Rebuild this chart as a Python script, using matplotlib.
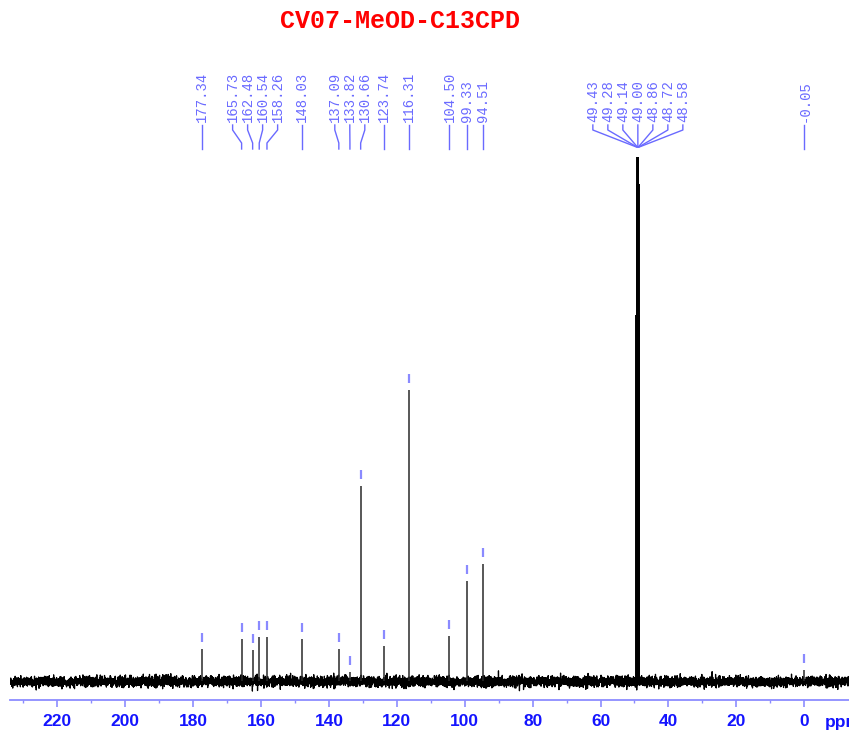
import numpy as np
import matplotlib
matplotlib.use("Agg")
import matplotlib.pyplot as plt
from matplotlib.transforms import IdentityTransform
from matplotlib.lines import Line2D

# ---- spectrum data -------------------------------------------------------
title = "CV07-MeOD-C13CPD"

# sample carbon resonances (ppm) and relative intensities (solvent max = 100)
peak_shifts = [177.34, 165.73, 162.48, 160.54, 158.26, 148.03, 137.09, 133.82,
               130.66, 123.74, 116.31, 104.50, 99.33, 94.51, -0.05]
peak_heights = [6.2, 8.1, 6.0, 8.5, 8.5, 8.1, 6.2, 1.8,
                37.3, 6.8, 55.6, 8.7, 19.2, 22.4, 2.2]

# CD3OD septet
solvent_shifts = [49.43, 49.28, 49.14, 49.00, 48.86, 48.72, 48.58]
solvent_heights = [70.0, 95.0, 100.0, 100.0, 100.0, 95.0, 70.0]

tick_values = [220, 200, 180, 160, 140, 120, 100, 80, 60, 40, 20, 0]
tick_labels = [str(v) for v in tick_values]
axis_unit = "ppm"

# ---- figure / axes -------------------------------------------------------
W, H = 849, 732
fig = plt.figure(figsize=(W / 100, H / 100), dpi=100)
ax_left, ax_right = 10, 849
ax_bottom, ax_top = 700, 157.3           # pixel rows, measured from top
ax = fig.add_axes([ax_left / W, 1 - ax_bottom / H,
                   (ax_right - ax_left) / W, (ax_bottom - ax_top) / H])
ax.set_xlim(233.96, -13.2)
y_lo = -3.53
ax.set_ylim(y_lo, 100)
px_per_unit = (ax_bottom - ax_top) / (100 - y_lo)

# baseline noise texture
rng = np.random.default_rng(7)
grid = np.linspace(233.96, -13.2, 8000)
noise = rng.normal(0.0, 0.5, grid.size)
ax.plot(grid, noise, color="black", lw=0.9, zorder=2)

# resonance lines
ax.vlines(peak_shifts, 0, peak_heights, color="#2a2a2a", lw=1.1, zorder=3)
ax.vlines(solvent_shifts, 0, solvent_heights, color="black", lw=1.4, zorder=3)

# small peak-top markers
gap_u = 7 / px_per_unit
len_u = 9 / px_per_unit
ph = np.array(peak_heights)
ax.vlines(peak_shifts, ph + gap_u, ph + gap_u + len_u,
          color="#8a8aff", lw=1.6, zorder=3)

# axis styling
for side in ("left", "right", "top"):
    ax.spines[side].set_visible(False)
ax.spines["bottom"].set_color("#8c8cff")
ax.spines["bottom"].set_linewidth(1.3)
ax.set_yticks([])
ax.set_xticks(tick_values)
ax.set_xticklabels(tick_labels)
ax.set_xticks(np.arange(230, -10, -10), minor=True)
ax.tick_params(axis="x", which="major", colors="#8c8cff", length=5, width=1.2,
               pad=5, labelcolor="#1414ff", labelsize=12.5)
ax.tick_params(axis="x", which="minor", colors="#8c8cff", length=2.5, width=1.0)
for lab in ax.get_xticklabels():
    lab.set_fontfamily("Liberation Sans")
    lab.set_fontweight("bold")

# unit label on the tick-label row
ax.text(-6.1, -(722 - ax_bottom) / (ax_bottom - ax_top), axis_unit,
        transform=ax.get_xaxis_transform(), ha="left", va="center",
        color="#1414ff", fontsize=12.5, fontweight="bold",
        family="Liberation Sans", clip_on=False)

# title
fig.text(400 / W, 1 - 21 / H, title, ha="center", va="center",
         color="#ff0000", fontsize=18, fontweight="bold",
         family="Liberation Mono")

# ---- peak labels with leader lines --------------------------------------
fig.canvas.draw()
to_px = lambda ppm: ax.transData.transform((ppm, 0))[0]

all_shifts = list(peak_shifts) + list(solvent_shifts)
is_solvent = [False] * len(peak_shifts) + [True] * len(solvent_shifts)
px = np.array([to_px(s) for s in all_shifts])

# spread crowded labels evenly around their cluster centre
spacing = 15.0
order = np.argsort(px)
clusters = [[i] for i in order]
changed = True
while changed:
    changed = False
    pos = []
    for c in clusters:
        centre = np.mean(px[c])
        n = len(c)
        pos.append([centre + (k - (n - 1) / 2) * spacing for k in range(n)])
    for j in range(len(clusters) - 1):
        if pos[j][-1] + spacing > pos[j + 1][0] + 1e-6:
            clusters[j] = clusters[j] + clusters[j + 1]
            del clusters[j + 1]
            changed = True
            break
label_x = np.zeros(len(px))
for c in clusters:
    centre = np.mean(px[c])
    n = len(c)
    for k, i in enumerate(c):
        label_x[i] = centre + (k - (n - 1) / 2) * spacing

lab_color = "#6a6aff"
to_disp = lambda y_top: H - y_top
ident = IdentityTransform()
for i, s in enumerate(all_shifts):
    lx, pxx = label_x[i], px[i]
    fig.text(lx, to_disp(122), f"{s:.2f}", rotation=90, ha="center",
             va="bottom", color=lab_color, fontsize=10,
             family="Liberation Mono", transform=ident)
    if is_solvent[i]:
        xs = [lx, lx, pxx]
        ys = [125, 130, 147]
    else:
        xs = [lx, lx, pxx, pxx]
        ys = [125, 130, 143, 149]
    fig.add_artist(Line2D(xs, [to_disp(y) for y in ys], transform=ident,
                          color=lab_color, lw=1.0))

fig.savefig("out.png", dpi=100)
